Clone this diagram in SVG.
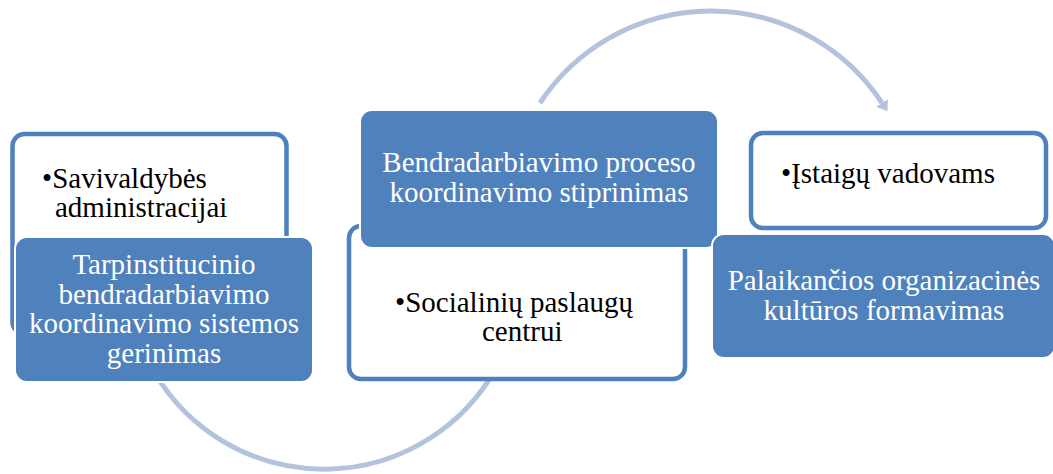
<svg xmlns="http://www.w3.org/2000/svg" width="1053" height="474" viewBox="0 0 1053 474">
<defs>
<style>
.wbox{fill:#ffffff;stroke:#4f81bd;stroke-width:4.5}
.bbox{fill:#4f81bd;stroke:#ffffff;stroke-width:2}
.arc{fill:none;stroke:#b3c3de;stroke-width:5}
.t{font-family:"Liberation Serif","Times New Roman",serif;font-size:29px}
.tb{fill:#000000}
.tw{fill:#ffffff;text-anchor:middle}
</style>
<marker id="ah" markerUnits="userSpaceOnUse" markerWidth="12" markerHeight="14" refX="0" refY="7" orient="auto">
<path d="M0,0 L10,7 L0,14 z" fill="#b3c3de"/>
</marker>
</defs>
<g id="connectors">
<path class="arc" d="M 540 103 A 205 205 0 0 1 882 103" marker-end="url(#ah)"/>
<path class="arc" d="M 156 375 A 197 197 0 0 0 495 370"/>
</g>
<g id="node-left">
<rect class="wbox" x="12.5" y="134" width="274" height="200" rx="12"/>
<text class="t tb" x="42" y="188">•Savivaldybės</text>
<text class="t tb" x="55" y="217">administracijai</text>
<rect class="bbox" x="15" y="237" width="298" height="145" rx="12"/>
<text class="t tw" x="164" y="274">Tarpinstitucinio</text>
<text class="t tw" x="164" y="303.5">bendradarbiavimo</text>
<text class="t tw" x="164" y="333">koordinavimo sistemos</text>
<text class="t tw" x="164" y="362.5">gerinimas</text>
</g>
<g id="node-middle">
<rect class="wbox" x="349" y="226" width="336" height="153" rx="12"/>
<text class="t tb" x="395" y="312">•Socialinių paslaugų</text>
<text class="t tb" x="482" y="341">centrui</text>
<rect class="bbox" x="360" y="110" width="358" height="138" rx="12"/>
<text class="t tw" x="539" y="172">Bendradarbiavimo proceso</text>
<text class="t tw" x="539" y="202">koordinavimo stiprinimas</text>
</g>
<g id="node-right">
<rect class="wbox" x="751" y="133" width="295" height="95" rx="12"/>
<text class="t tb" x="781" y="183">•Įstaigų vadovams</text>
<rect class="bbox" x="712" y="234" width="343" height="124" rx="12"/>
<text class="t tw" x="884" y="289.5">Palaikančios organizacinės</text>
<text class="t tw" x="884" y="319.5">kultūros formavimas</text>
</g>
</svg>
